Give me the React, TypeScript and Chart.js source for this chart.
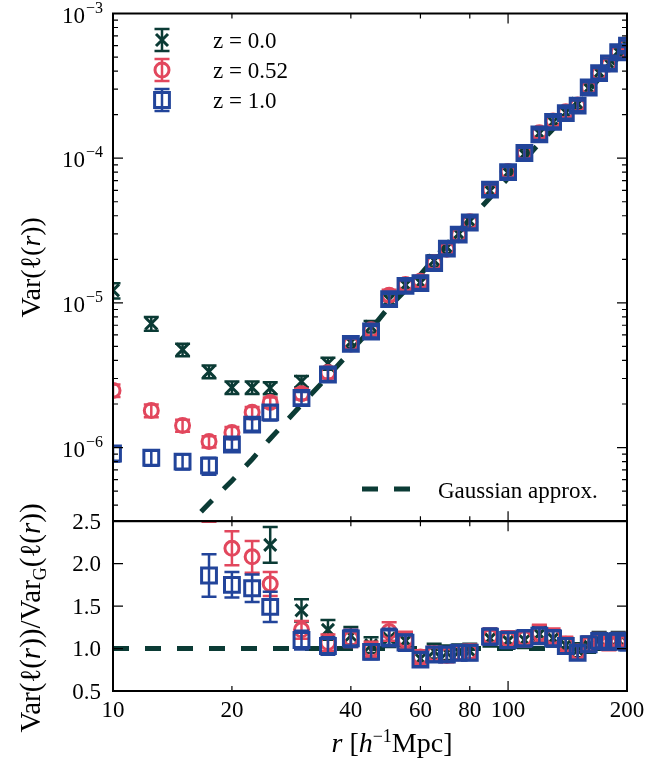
import React, { useEffect, useRef } from "react";
import { Chart, registerables } from "chart.js";

Chart.register(...registerables);

// Separation bins r [h^-1 Mpc]
const radii = [10, 12.5, 15, 17.5, 20, 22.5, 25, 30, 35, 40, 45, 50, 55, 60, 65, 70, 75, 80, 90, 100, 110, 120, 130, 140, 150, 160, 170, 180, 190, 200];

// Var(l(r)) measured at each redshift
const varZ00 = [1.22e-5, 7.2e-6, 4.75e-6, 3.35e-6, 2.6e-6, 2.6e-6, 2.58e-6, 2.86e-6, 3.81e-6, 5.35e-6, 6.86e-6, 1.05e-5, 1.33e-5, 1.38e-5, 1.96e-5, 2.42e-5, 3.0e-5, 3.67e-5, 5.96e-5, 7.94e-5, 1.067e-4, 1.486e-4, 1.78e-4, 2.07e-4, 2.38e-4, 3.05e-4, 3.9e-4, 4.51e-4, 5.45e-4, 6.05e-4];
const varZ052 = [2.48e-6, 1.8e-6, 1.42e-6, 1.1e-6, 1.27e-6, 1.75e-6, 2.05e-6, 2.35e-6, 3.3e-6, 5.2e-6, 6.53e-6, 1.13e-5, 1.34e-5, 1.41e-5, 1.9e-5, 2.35e-5, 2.96e-5, 3.63e-5, 6.06e-5, 8.08e-5, 1.086e-4, 1.499e-4, 1.81e-4, 2.09e-4, 2.33e-4, 3.08e-4, 3.87e-4, 4.47e-4, 5.4e-4, 6.05e-4];
const varZ10 = [9.1e-7, 8.5e-7, 8.0e-7, 7.5e-7, 1.05e-6, 1.44e-6, 1.75e-6, 2.2e-6, 3.2e-6, 5.2e-6, 6.34e-6, 1.06e-5, 1.31e-5, 1.37e-5, 1.88e-5, 2.37e-5, 2.96e-5, 3.59e-5, 6.06e-5, 8.0e-5, 1.086e-4, 1.46e-4, 1.78e-4, 2.05e-4, 2.31e-4, 3.08e-4, 3.87e-4, 4.51e-4, 5.4e-4, 6.0e-4];

// Gaussian prediction Var_G(l(r))
const varGauss = [8.2e-8, 1.56e-7, 2.65e-7, 4.1e-7, 5.9e-7, 8.3e-7, 1.15e-6, 1.98e-6, 3.1e-6, 4.65e-6, 6.6e-6, 9.4e-6, 1.22e-5, 1.57e-5, 2.02e-5, 2.55e-5, 3.12e-5, 3.78e-5, 5.32e-5, 7.28e-5, 9.7e-5, 1.27e-4, 1.59e-4, 1.99e-4, 2.43e-4, 2.93e-4, 3.55e-4, 4.18e-4, 4.95e-4, 5.6e-4];

// Var / Var_G (null where the ratio lies far above the panel)
const ratioZ00 = [null, null, null, null, null, 3.1, 2.22, 1.45, 1.22, 1.15, 1.04, 1.12, 1.09, 0.88, 0.97, 0.95, 0.96, 0.97, 1.12, 1.09, 1.1, 1.17, 1.12, 1.04, 0.98, 1.04, 1.1, 1.08, 1.1, 1.08];
const ratioZ052 = [null, null, null, 2.74, 2.18, 2.08, 1.76, 1.22, 1.07, 1.12, 0.99, 1.2, 1.1, 0.9, 0.94, 0.92, 0.95, 0.96, 1.14, 1.11, 1.12, 1.18, 1.14, 1.05, 0.96, 1.05, 1.09, 1.07, 1.09, 1.08];
const ratioZ10 = [null, null, null, 1.86, 1.75, 1.71, 1.49, 1.1, 1.03, 1.12, 0.96, 1.13, 1.07, 0.87, 0.93, 0.93, 0.95, 0.95, 1.14, 1.1, 1.12, 1.15, 1.12, 1.03, 0.95, 1.05, 1.09, 1.08, 1.09, 1.07];

// Fractional 1-sigma errors
const relErrZ00 = [0.12, 0.11, 0.1, 0.1, 0.1, 0.1, 0.095, 0.09, 0.095, 0.09, 0.09, 0.09, 0.09, 0.09, 0.09, 0.09, 0.09, 0.09, 0.085, 0.085, 0.085, 0.085, 0.085, 0.085, 0.085, 0.085, 0.085, 0.085, 0.085, 0.085];
const relErrZ052 = [0.1, 0.1, 0.095, 0.09, 0.092, 0.09, 0.08, 0.085, 0.09, 0.09, 0.09, 0.09, 0.09, 0.09, 0.09, 0.09, 0.09, 0.09, 0.085, 0.085, 0.085, 0.085, 0.085, 0.085, 0.085, 0.085, 0.085, 0.085, 0.085, 0.085];
const relErrZ10 = [0.12, 0.12, 0.12, 0.135, 0.086, 0.094, 0.12, 0.1, 0.1, 0.09, 0.09, 0.09, 0.09, 0.09, 0.09, 0.09, 0.09, 0.09, 0.085, 0.085, 0.085, 0.085, 0.085, 0.085, 0.085, 0.085, 0.085, 0.085, 0.085, 0.085];

const seriesLabels = ["z = 0.0", "z = 0.52", "z = 1.0"];
const gaussLabel = "Gaussian approx.";
const unityRatio = 1;

const xTickValues = [10, 20, 40, 60, 80, 100, 200];
const xMajorTicks = [10, 100];
const yTopTickValues = [1e-3, 1e-4, 1e-5, 1e-6];
const yTopMinorMultipliers = [2, 3, 4, 5, 6, 7, 8, 9];
const yBotTickValues = [0.5, 1.0, 1.5, 2.0, 2.5];

const DARK = "#0b3b35";
const RED = "#e2475d";
const BLUE = "#22449a";
const FONT = '"Liberation Serif", "DejaVu Serif", serif';
const CAP = 7.5;
const MARK_W = 3;
const ERR_W = 2.5;

const seriesStyles = [
  { label: seriesLabels[0], color: DARK, pointStyle: "crossRot", radius: 8.5, order: 3, vars: varZ00, ratios: ratioZ00, rel: relErrZ00 },
  { label: seriesLabels[1], color: RED, pointStyle: "circle", radius: 7, order: 2, vars: varZ052, ratios: ratioZ052, rel: relErrZ052 },
  { label: seriesLabels[2], color: BLUE, pointStyle: "rect", radius: 10.5, order: 1, vars: varZ10, ratios: ratioZ10, rel: relErrZ10 },
];

type Seg = { t: string; it?: boolean; size?: number; dy?: number };

function segFont(s: Seg, base: number) {
  return `${s.it ? "italic " : ""}${s.size ?? base}px ${FONT}`;
}

function drawRich(ctx: CanvasRenderingContext2D, segs: Seg[], cx: number, y: number, base: number) {
  let w = 0;
  for (const s of segs) {
    ctx.font = segFont(s, base);
    w += ctx.measureText(s.t).width;
  }
  let x = cx - w / 2;
  ctx.textAlign = "left";
  ctx.textBaseline = "alphabetic";
  for (const s of segs) {
    ctx.font = segFont(s, base);
    ctx.fillText(s.t, x, y + (s.dy ?? 0));
    x += ctx.measureText(s.t).width;
  }
}

function drawMarker(ctx: CanvasRenderingContext2D, style: string, x: number, y: number) {
  ctx.beginPath();
  if (style === "crossRot") {
    const d = 6;
    ctx.moveTo(x - d, y - d);
    ctx.lineTo(x + d, y + d);
    ctx.moveTo(x + d, y - d);
    ctx.lineTo(x - d, y + d);
  } else if (style === "circle") {
    ctx.arc(x, y, 7, 0, Math.PI * 2);
  } else {
    ctx.rect(x - 7.4, y - 7.4, 14.8, 14.8);
  }
  ctx.stroke();
}

const errorBarPlugin = {
  id: "errorBars",
  beforeDatasetDraw(chart: any, args: any) {
    const ds = chart.data.datasets[args.index];
    const errs = ds.errorBars as (number | null)[] | undefined;
    if (!errs) return;
    const xs = args.meta.xScale;
    const ys = args.meta.yScale;
    const ctx: CanvasRenderingContext2D = chart.ctx;
    ctx.save();
    ctx.beginPath();
    ctx.rect(xs.left, ys.top, xs.right - xs.left, ys.bottom - ys.top);
    ctx.clip();
    ctx.strokeStyle = ds.borderColor;
    ctx.lineWidth = ERR_W;
    ctx.beginPath();
    ds.data.forEach((p: any, i: number) => {
      const e = errs[i];
      if (p.y == null || e == null) return;
      const x = xs.getPixelForValue(p.x);
      const yLo = ys.getPixelForValue(p.y - e);
      const yHi = ys.getPixelForValue(p.y + e);
      ctx.moveTo(x, yLo);
      ctx.lineTo(x, yHi);
      ctx.moveTo(x - CAP, yLo);
      ctx.lineTo(x + CAP, yLo);
      ctx.moveTo(x - CAP, yHi);
      ctx.lineTo(x + CAP, yHi);
    });
    ctx.stroke();
    ctx.restore();
  },
};

const frameworkPlugin = {
  id: "frame",
  afterDraw(chart: any) {
    const ctx: CanvasRenderingContext2D = chart.ctx;
    const xs = chart.scales.x;
    const yt = chart.scales.yTop;
    const yb = chart.scales.yBot;
    const L = xs.left;
    const R = xs.right;
    ctx.save();
    ctx.strokeStyle = "#000";
    ctx.fillStyle = "#000";

    // inward ticks
    ctx.lineWidth = 1.2;
    ctx.beginPath();
    for (const p of [yt, yb]) {
      for (const v of xTickValues) {
        const x = xs.getPixelForValue(v);
        const len = xMajorTicks.includes(v) ? 10 : 5;
        ctx.moveTo(x, p.top);
        ctx.lineTo(x, p.top + len);
        ctx.moveTo(x, p.bottom);
        ctx.lineTo(x, p.bottom - len);
      }
    }
    const decades = [1e-7, ...yTopTickValues.slice().reverse()];
    for (const d of decades) {
      const marks = [{ v: d, len: 10 }, ...yTopMinorMultipliers.map((m) => ({ v: m * d, len: 5 }))];
      for (const mk of marks) {
        if (mk.v < yt.min * 0.999 || mk.v > yt.max * 1.001) continue;
        const y = yt.getPixelForValue(mk.v);
        ctx.moveTo(L, y);
        ctx.lineTo(L + mk.len, y);
        ctx.moveTo(R, y);
        ctx.lineTo(R - mk.len, y);
      }
    }
    for (const v of yBotTickValues) {
      const y = yb.getPixelForValue(v);
      ctx.moveTo(L, y);
      ctx.lineTo(L + 10, y);
      ctx.moveTo(R, y);
      ctx.lineTo(R - 10, y);
    }
    ctx.stroke();

    // panel frames
    ctx.lineWidth = 2;
    ctx.strokeRect(L, yt.top, R - L, yt.bottom - yt.top);
    ctx.strokeRect(L, yb.top, R - L, yb.bottom - yb.top);

    // tick labels
    ctx.textBaseline = "alphabetic";
    ctx.font = `23px ${FONT}`;
    ctx.textAlign = "center";
    for (const v of xTickValues) {
      ctx.fillText(String(v), xs.getPixelForValue(v), 717);
    }
    ctx.textAlign = "right";
    for (const v of yBotTickValues) {
      ctx.fillText(v.toFixed(1), 101, yb.getPixelForValue(v) + 7.5);
    }
    for (const v of yTopTickValues) {
      const y = yt.getPixelForValue(v);
      const sup = "\u2212" + Math.round(-Math.log10(v));
      ctx.textAlign = "left";
      ctx.font = `16px ${FONT}`;
      const wSup = ctx.measureText(sup).width;
      ctx.font = `23px ${FONT}`;
      const wBase = ctx.measureText("10").width;
      const right = 103;
      ctx.fillText("10", right - wSup - wBase - 1, y + 9);
      ctx.font = `16px ${FONT}`;
      ctx.fillText(sup, right - wSup, y - 1);
    }

    // axis titles
    drawRich(ctx, [{ t: "r", it: true }, { t: " [" }, { t: "h", it: true }, { t: "\u22121", size: 18, dy: -10 }, { t: "Mpc]" }], 392, 752, 28);
    ctx.save();
    ctx.translate(40, (yt.top + yt.bottom) / 2);
    ctx.rotate(-Math.PI / 2);
    drawRich(ctx, [{ t: "Var(\u2113(" }, { t: "r", it: true }, { t: "))" }], 0, 0, 28);
    ctx.restore();
    ctx.save();
    ctx.translate(40, 618);
    ctx.rotate(-Math.PI / 2);
    drawRich(
      ctx,
      [
        { t: "Var(\u2113(" }, { t: "r", it: true }, { t: "))/Var" }, { t: "G", size: 18, dy: 6 },
        { t: "(\u2113(" }, { t: "r", it: true }, { t: "))" },
      ],
      0, 0, 29
    );
    ctx.restore();

    // redshift legend
    const legendYs = [40, 70, 100];
    seriesStyles.forEach((s, i) => {
      const x = 162;
      const y = legendYs[i];
      ctx.strokeStyle = s.color;
      ctx.lineWidth = ERR_W;
      ctx.beginPath();
      ctx.moveTo(x, y - 11);
      ctx.lineTo(x, y + 11);
      ctx.moveTo(x - CAP, y - 11);
      ctx.lineTo(x + CAP, y - 11);
      ctx.moveTo(x - CAP, y + 11);
      ctx.lineTo(x + CAP, y + 11);
      ctx.stroke();
      ctx.lineWidth = MARK_W;
      drawMarker(ctx, s.pointStyle, x, y);
      ctx.fillStyle = "#000";
      ctx.font = `23px ${FONT}`;
      ctx.textAlign = "left";
      ctx.fillText(s.label, 213, y + 8);
    });

    // Gaussian legend
    ctx.strokeStyle = DARK;
    ctx.lineWidth = 5;
    ctx.beginPath();
    ctx.moveTo(362, 489);
    ctx.lineTo(378, 489);
    ctx.moveTo(394, 489);
    ctx.lineTo(410, 489);
    ctx.stroke();
    ctx.fillStyle = "#000";
    ctx.font = `23px ${FONT}`;
    ctx.textAlign = "left";
    ctx.fillText(gaussLabel, 438, 498);

    ctx.restore();
  },
};

function buildDatasets() {
  const datasets: any[] = [];
  for (const s of seriesStyles) {
    const common = {
      label: s.label,
      xAxisID: "x",
      pointStyle: s.pointStyle,
      pointRadius: s.radius,
      pointHoverRadius: s.radius,
      pointBorderWidth: MARK_W,
      borderColor: s.color,
      pointBorderColor: s.color,
      backgroundColor: "rgba(0,0,0,0)",
      pointBackgroundColor: "rgba(0,0,0,0)",
      showLine: false,
      clip: 0,
      order: s.order,
    };
    datasets.push({
      ...common,
      yAxisID: "yTop",
      data: radii.map((r, i) => ({ x: r, y: s.vars[i] })),
      errorBars: radii.map((_, i) => s.vars[i] * s.rel[i]),
    });
    datasets.push({
      ...common,
      yAxisID: "yBot",
      data: radii.map((r, i) => ({ x: r, y: s.ratios[i] })),
      errorBars: radii.map((_, i) => (s.ratios[i] == null ? null : (s.ratios[i] as number) * s.rel[i])),
    });
  }
  const dashed = {
    xAxisID: "x",
    showLine: true,
    borderColor: DARK,
    borderWidth: 5,
    borderDash: [16, 16],
    borderCapStyle: "butt",
    pointRadius: 0,
    pointHoverRadius: 0,
    fill: false,
    tension: 0,
    clip: 0,
    order: 10,
  };
  datasets.push({ ...dashed, label: gaussLabel, yAxisID: "yTop", data: radii.map((r, i) => ({ x: r, y: varGauss[i] })) });
  datasets.push({ ...dashed, label: "Var / Var_G = 1", yAxisID: "yBot", data: radii.map((r) => ({ x: r, y: unityRatio })) });
  return datasets;
}

const hiddenAxis = {
  grid: { display: false, drawTicks: false },
  border: { display: false },
  ticks: { display: false },
};

export default function App() {
  const ref = useRef<HTMLCanvasElement>(null);

  useEffect(() => {
    const canvas = ref.current;
    if (!canvas) return;
    const chart = new Chart(canvas, {
      type: "scatter",
      data: { datasets: buildDatasets() },
      options: {
        animation: false,
        responsive: false,
        maintainAspectRatio: false,
        devicePixelRatio: 1,
        events: [],
        layout: { padding: { left: 0, right: 44, top: 13, bottom: 0 } },
        plugins: { legend: { display: false }, tooltip: { enabled: false } },
        scales: {
          x: {
            ...hiddenAxis,
            type: "logarithmic",
            position: "bottom",
            min: 10,
            max: 200,
            afterFit: (s: any) => {
              s.height = 76;
            },
          },
          // stacked panels: the ratio axis is listed first so that it sits below
          yBot: {
            ...hiddenAxis,
            type: "linear",
            position: "left",
            stack: "panels",
            stackWeight: 170,
            min: 0.5,
            max: 2.5,
            afterFit: (s: any) => {
              s.width = 113;
            },
          },
          yTop: {
            ...hiddenAxis,
            type: "logarithmic",
            position: "left",
            stack: "panels",
            stackWeight: 508,
            min: 3.1e-7,
            max: 1e-3,
            afterFit: (s: any) => {
              s.width = 113;
            },
          },
        },
      } as any,
      plugins: [errorBarPlugin, frameworkPlugin],
    });
    return () => chart.destroy();
  }, []);

  return (
    <div style={{ position: "fixed", left: 0, top: 0, width: 671, height: 767, background: "#fff" }}>
      <canvas ref={ref} width={671} height={767} style={{ display: "block", width: 671, height: 767 }} />
    </div>
  );
}
